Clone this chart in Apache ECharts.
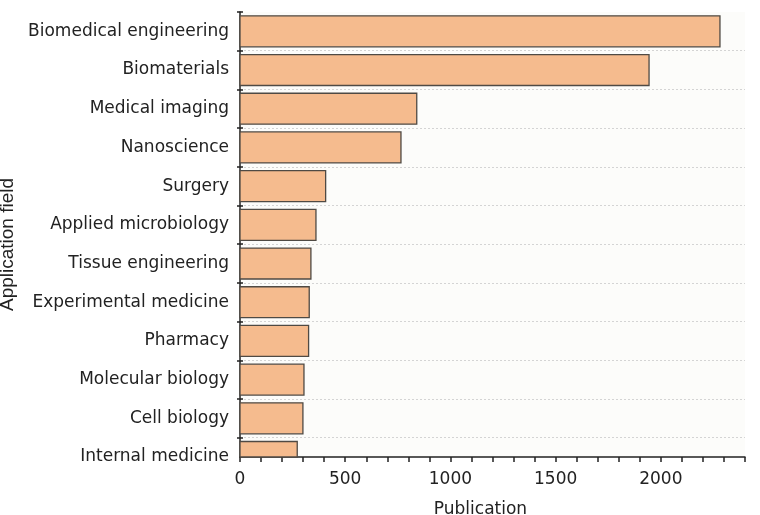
<!DOCTYPE html>
<html>
<head>
<meta charset="utf-8">
<script src="https://cdn.jsdelivr.net/npm/echarts@6/dist/echarts.min.js"></script>
<style>html,body{margin:0;padding:0;background:#fff;}#c{width:760px;height:515px;}</style>
</head>
<body>
<div id="c"></div>
<script>
// Categories, top to bottom
var categories = ['Biomedical engineering', 'Biomaterials', 'Medical imaging', 'Nanoscience', 'Surgery',
  'Applied microbiology', 'Tissue engineering', 'Experimental medicine', 'Pharmacy',
  'Molecular biology', 'Cell biology', 'Internal medicine'];
// Publication counts
var publications = [2281, 1944, 840, 765, 407, 361, 337, 329, 326, 304, 299, 272];
// X tick labels shown
var xTickLabels = [0, 500, 1000, 1500, 2000];
var xMax = 2400;

// Half-band category axis: boundaries at even slots, category centres at odd slots
var slots = [];
for (var i = 0; i < categories.length; i++) { slots.push(''); slots.push(categories[i]); }
var barData = publications.map(function (v, i) { return [v, 2 * i + 1]; });

var font = 'DejaVu Sans, sans-serif';
var vfont = '"Liberation Sans", Arial, sans-serif';
var chart = echarts.init(document.getElementById('c'));
chart.setOption({
  backgroundColor: '#ffffff',
  animation: false,
  grid: { left: 240, right: 15, top: 12, bottom: 58, containLabel: false, outerBoundsMode: 'none',
          backgroundColor: '#fcfcfa', show: true, borderWidth: 0 },
  xAxis: {
    type: 'value', min: 0, max: xMax, interval: 100,
    name: 'Publication', nameLocation: 'middle', nameGap: 44,
    nameTextStyle: { fontSize: 17, color: '#222', fontFamily: font, padding: [0, 24, 0, 0] },
    axisLine: { show: true, lineStyle: { color: '#222', width: 1.5 } },
    axisTick: { show: true, inside: false, length: 5, lineStyle: { color: '#222', width: 1.5 } },
    axisLabel: {
      fontSize: 17, color: '#222', fontFamily: font, margin: 14,
      formatter: function (v) { return xTickLabels.indexOf(v) >= 0 ? String(v) : ''; }
    },
    splitLine: { show: false }
  },
  yAxis: [{
    type: 'category', data: slots, inverse: true, boundaryGap: false,
    name: 'Application field', nameLocation: 'middle', nameGap: 222, nameRotate: 90,
    nameTextStyle: { fontSize: 19, color: '#222', fontFamily: vfont, padding: [0, 20, 0, 0] },
    axisLine: { show: true, lineStyle: { color: '#222', width: 1.5 } },
    axisTick: { show: true, inside: false, length: 3, interval: function (i) { return i % 2 === 0; }, lineStyle: { color: '#222', width: 1.5 } },
    axisLabel: { fontSize: 17, color: '#222', fontFamily: font, margin: 11, interval: function (i) { return i % 2 === 1; } },
    splitLine: { show: true, interval: function (i) { return i % 2 === 0 && i > 0; }, lineStyle: { color: '#d4d4d4', type: [2, 2], width: 1 } }
  }, {
    type: 'category', data: slots, inverse: true, boundaryGap: false, position: 'left',
    axisLine: { show: false },
    axisTick: { show: true, inside: true, length: 3, interval: function (i) { return i % 2 === 0; }, lineStyle: { color: '#222', width: 1.5 } },
    axisLabel: { show: false },
    splitLine: { show: false }
  }],
  series: [{
    type: 'custom', yAxisIndex: 0, data: barData,
    encode: { x: 0, y: 1 },
    renderItem: function (params, api) {
      var v = api.value(0), s = api.value(1);
      var p0 = api.coord([0, s]);
      var p1 = api.coord([v, s]);
      var h = api.size([0, 1])[1] * 1.6;
      var cs = params.coordSys;
      var shape = echarts.graphic.clipRectByRect(
        { x: p0[0], y: p0[1] - h / 2, width: p1[0] - p0[0], height: h },
        { x: cs.x, y: cs.y, width: cs.width, height: cs.height });
      if (!shape) return;
      return {
        type: 'rect', shape: shape,
        style: { fill: '#f5bb8e', stroke: '#4f4a44', lineWidth: 1.3 }
      };
    }
  }]
});
</script>
</body>
</html>
